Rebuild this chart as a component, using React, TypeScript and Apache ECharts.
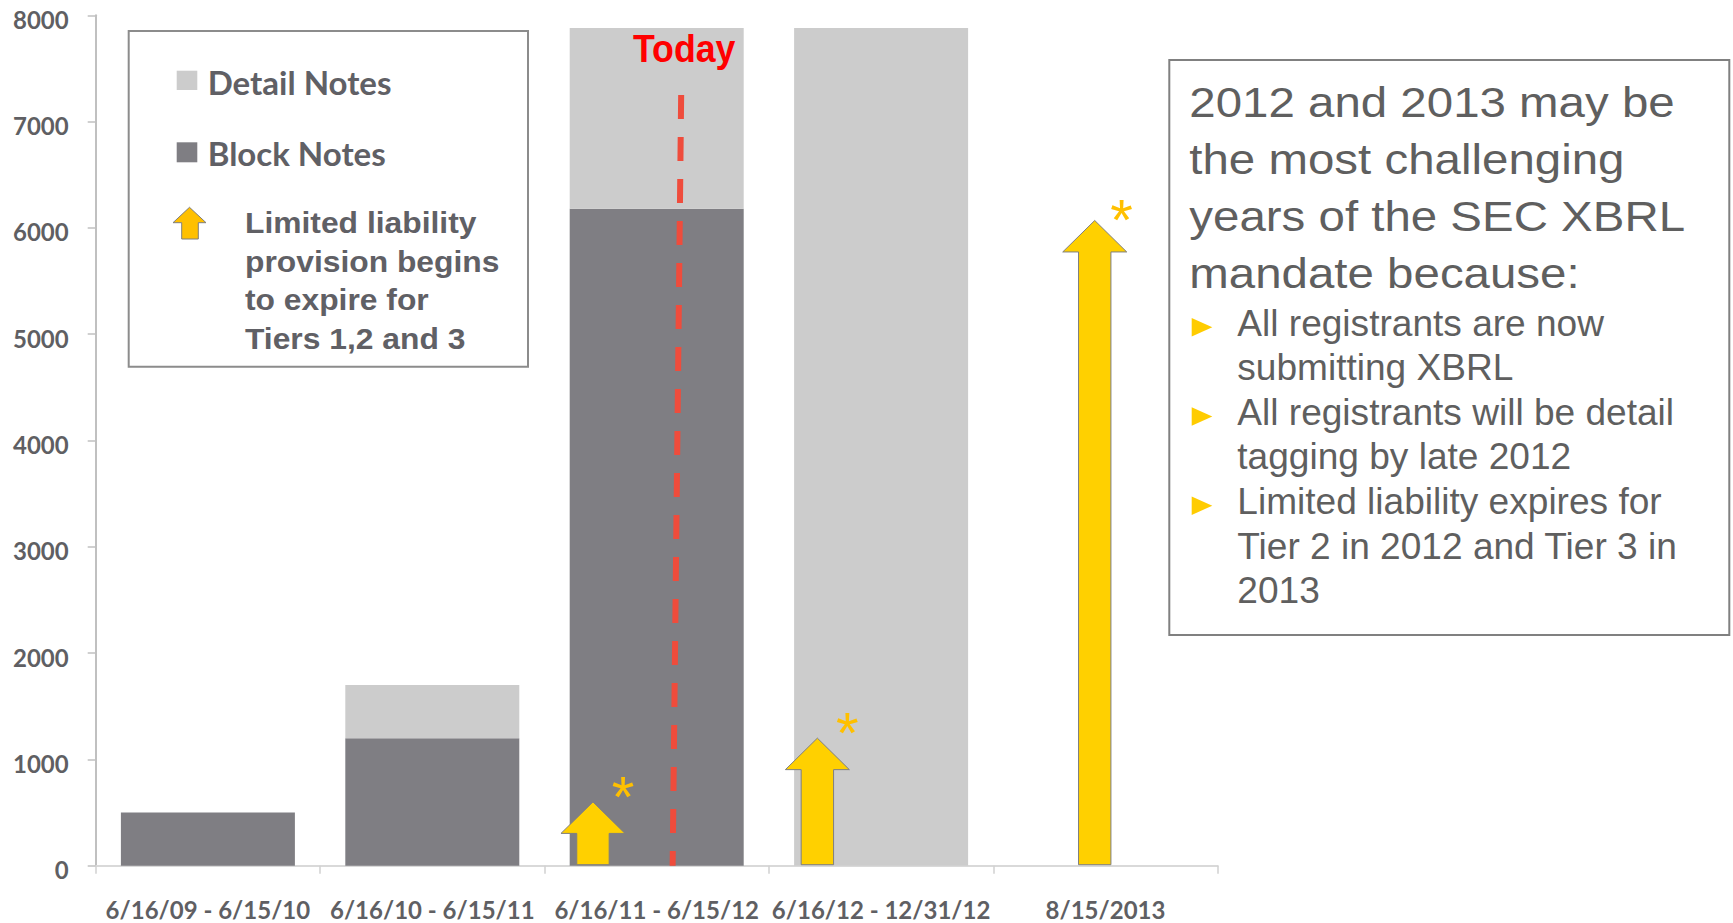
import React, { useEffect, useRef } from "react";
import * as echarts from "echarts";

// ---------- data ----------
const categories = [
  "6/16/09 - 6/15/10",
  "6/16/10 - 6/15/11",
  "6/16/11 - 6/15/12",
  "6/16/12 - 12/31/12",
  "8/15/2013",
];
const seriesNames = ["Detail Notes", "Block Notes"];
const blockNotes: (number | null)[] = [500, 1200, 6180, null, null];
const detailNotes: (number | null)[] = [null, 500, 1700, 7880, null];
const yMin = 0;
const yMax = 8000;
const yInterval = 1000;

// "Limited liability provision" arrows: [category index, height]
const arrowCategories = [2, 3, 4];
const arrowValues = [600, 1200, 6070];

// "Today" marker
const todayCategory = 2;
const todayTop = 7250;
const todayLabel = "Today";

const legendNoteLines = ["Limited liability", "provision begins", "to expire for", "Tiers 1,2 and 3"];
const headingLines = ["2012 and 2013 may be", "the most challenging", "years of the SEC XBRL", "mandate because:"];
const bulletItems = [
  ["All registrants are now", "submitting XBRL"],
  ["All registrants will be detail", "tagging by late 2012"],
  ["Limited liability expires for", "Tier 2 in 2012 and Tier 3 in", "2013"],
];

// ---------- styles ----------
const DARK = "#7f7e83";
const LIGHT = "#cccccc";
const TEXT_GRAY = "#5f5f63";
const ARROW_FILL = "#ffd000";
const ARROW_OFFSETS = [-0.284, -0.284, -0.048]; // fraction of band width from category center
const STAR_DX = [30, 30, 26.7];
const STAR_DY = [-5.5, -5.5, -1.2];
const TODAY_OFFSET_TOP = 0.109;
const TODAY_OFFSET_BOTTOM = 0.071;
const ARIAL = "'Liberation Sans', Arial, sans-serif";
const LATO = "Lato, 'Open Sans', sans-serif";

function mid(baseline: number, fs: number, k = 0.3465) {
  return baseline - k * fs;
}

export default function App() {
  const ref = useRef<HTMLDivElement>(null);

  useEffect(() => {
    if (!ref.current) return;
    const chart = echarts.init(ref.current, undefined, { renderer: "svg" });

    const arrowData = arrowCategories.map((c, i) => [c, arrowValues[i]]);

    const graphics: any[] = [];
    // legend box
    graphics.push({
      type: "rect",
      shape: { x: 128.7, y: 31, width: 399.3, height: 335.7 },
      style: { fill: "none", stroke: "#8c8c8c", lineWidth: 2 },
    });
    graphics.push({
      type: "rect",
      shape: { x: 176.7, y: 70.7, width: 20.6, height: 19.3 },
      style: { fill: LIGHT },
    });
    graphics.push({
      type: "rect",
      shape: { x: 176.7, y: 142.3, width: 20.6, height: 20 },
      style: { fill: DARK },
    });
    const legendBaselines = [95, 165.7];
    seriesNames.forEach((n, i) => {
      graphics.push({
        type: "text",
        x: 207.7,
        y: mid(legendBaselines[i], 33, 0.387),
        style: {
          text: n,
          x: 0,
          y: 0,
          fill: "#606065",
          fontFamily: LATO,
          fontWeight: "bold",
          fontSize: 33,
          align: "left",
          textAlign: "left",
          verticalAlign: "middle",
          textVerticalAlign: "middle",
        },
      });
    });
    // legend arrow icon
    graphics.push({
      type: "polygon",
      shape: {
        points: [
          [189.5, 207.3],
          [206, 222.7],
          [198.3, 222.7],
          [198.3, 239],
          [181.7, 239],
          [181.7, 222.7],
          [173, 222.7],
        ],
      },
      style: { fill: "#ffc000", stroke: "#7f7f7f", lineWidth: 1 },
    });
    legendNoteLines.forEach((t, i) => {
      graphics.push({
        type: "text",
        x: 245,
        y: mid(233.3 + i * 38.7, 30),
        scaleX: 1.06,
        style: {
          text: t,
          x: 0,
          y: 0,
          fill: "#606065",
          fontFamily: ARIAL,
          fontWeight: "bold",
          fontSize: 30,
          align: "left",
          textAlign: "left",
          verticalAlign: "middle",
          textVerticalAlign: "middle",
        },
      });
    });

    // right text box
    graphics.push({
      type: "rect",
      shape: { x: 1169.3, y: 60, width: 560, height: 575 },
      style: { fill: "none", stroke: "#808080", lineWidth: 2 },
    });
    headingLines.forEach((t, i) => {
      graphics.push({
        type: "text",
        x: 1189.3,
        y: mid(116.5 + i * 57, 42),
        scaleX: 1.13,
        style: {
          text: t,
          x: 0,
          y: 0,
          fill: "#5f5f5f",
          fontFamily: ARIAL,
          fontSize: 42,
          align: "left",
          textAlign: "left",
          verticalAlign: "middle",
          textVerticalAlign: "middle",
        },
      });
    });
    let line = 0;
    bulletItems.forEach((item) => {
      const b = 335.7 + line * 44.6;
      const cy = b - 8.4;
      graphics.push({
        type: "polygon",
        shape: {
          points: [
            [1191.7, cy - 9.2],
            [1212.3, cy],
            [1191.7, cy + 9.2],
          ],
        },
        style: { fill: "#ffcc00" },
      });
      item.forEach((t) => {
        graphics.push({
          type: "text",
          x: 1237.3,
          y: mid(335.7 + line * 44.6, 36),
          scaleX: 1.03,
          style: {
            text: t,
            x: 0,
            y: 0,
            fill: "#5f5f5f",
            fontFamily: ARIAL,
            fontSize: 36,
            align: "left",
            textAlign: "left",
            verticalAlign: "middle",
            textVerticalAlign: "middle",
          },
        });
        line++;
      });
    });

    chart.setOption({
      animation: false,
      backgroundColor: "#ffffff",
      grid: { left: 95.7, top: 15.3, width: 1122, height: 850.4, containLabel: false },
      xAxis: {
        type: "category",
        data: categories,
        boundaryGap: true,
        axisLine: { show: true, lineStyle: { color: "#d9d9d9", width: 2 } },
        axisTick: { show: true, length: 8, lineStyle: { color: "#d0d0d0", width: 1.5 } },
        axisLabel: {
          interval: 0,
          margin: 32,
          color: TEXT_GRAY,
          fontFamily: LATO,
          fontWeight: "bold",
          fontSize: 24,
        },
        splitLine: { show: false },
      },
      yAxis: {
        type: "value",
        min: yMin,
        max: yMax,
        interval: yInterval,
        axisLine: { show: true, lineStyle: { color: "#c0c0c0", width: 2 } },
        axisTick: { show: true, length: 8, lineStyle: { color: "#c0c0c0", width: 1.5 } },
        axisLabel: {
          margin: 27,
          color: TEXT_GRAY,
          fontFamily: LATO,
          fontWeight: "bold",
          fontSize: 24,
          verticalAlign: "top",
          lineHeight: 8,
          formatter: (v: number) => String(v),
        },
        splitLine: { show: false },
      },
      series: [
        {
          name: seriesNames[1],
          type: "bar",
          stack: "total",
          data: blockNotes,
          barWidth: 174,
          itemStyle: { color: DARK },
          z: 2,
        },
        {
          name: seriesNames[0],
          type: "bar",
          stack: "total",
          data: detailNotes,
          barWidth: 174,
          itemStyle: { color: LIGHT },
          z: 2,
        },
        {
          name: "Today",
          type: "custom",
          coordinateSystem: "cartesian2d",
          clip: false,
          z: 10,
          data: [[todayCategory, todayTop]],
          encode: { x: 0, y: 1 },
          renderItem: (params: any, api: any) => {
            const cat = api.value(0);
            const top = api.coord([cat, api.value(1)]);
            const base = api.coord([cat, 0]);
            const band = api.size([1, 0])[0];
            const xTop = top[0] + TODAY_OFFSET_TOP * band;
            const xBottom = base[0] + TODAY_OFFSET_BOTTOM * band;
            return {
              type: "group",
              children: [
                {
                  type: "line",
                  shape: { x1: xTop, y1: top[1], x2: xBottom, y2: base[1] },
                  style: { stroke: "#ef4c3c", lineWidth: 6, lineDash: [24, 18], lineCap: "butt" },
                },
                {
                  type: "text",
                  x: xTop + 3,
                  y: mid(62, 38),
                  scaleX: 0.94,
                  style: {
                    text: todayLabel,
                    x: 0,
                    y: 0,
                    fill: "#ff0000",
                    fontFamily: ARIAL,
                    fontWeight: "bold",
                    fontSize: 38,
                    align: "center",
                    verticalAlign: "middle",
                  },
                },
              ],
            };
          },
        },
        {
          name: "Limited liability",
          type: "custom",
          coordinateSystem: "cartesian2d",
          clip: false,
          z: 11,
          data: arrowData,
          encode: { x: 0, y: 1 },
          renderItem: (params: any, api: any) => {
            const i = params.dataIndex;
            const cat = api.value(0);
            const tip = api.coord([cat, api.value(1)]);
            const base = api.coord([cat, 0]);
            const band = api.size([1, 0])[0];
            const cx = tip[0] + ARROW_OFFSETS[i] * band;
            const ty = tip[1];
            const hb = ty + 31.5;
            const by = base[1] - 1;
            const hw = 32;
            const sw = 16.2;
            return {
              type: "group",
              children: [
                {
                  type: "polygon",
                  shape: {
                    points: [
                      [cx, ty],
                      [cx + hw, hb],
                      [cx + sw, hb],
                      [cx + sw, by],
                      [cx - sw, by],
                      [cx - sw, hb],
                      [cx - hw, hb],
                    ],
                  },
                  style: { fill: ARROW_FILL, stroke: "#7f7f7f", lineWidth: 1 },
                },
                {
                  type: "text",
                  x: cx + STAR_DX[i],
                  y: ty + STAR_DY[i],
                  style: {
                    text: "*",
                    x: 0,
                    y: 0,
                    fill: "#ffc000",
                    fontFamily: ARIAL,
                    fontSize: 58,
                    align: "center",
                    verticalAlign: "middle",
                  },
                },
              ],
            };
          },
        },
      ],
      graphic: graphics,
    });

    return () => chart.dispose();
  }, []);

  return (
    <div
      ref={ref}
      style={{ position: "absolute", left: 0, top: 0, width: 1733, height: 923, background: "#fff" }}
    />
  );
}
